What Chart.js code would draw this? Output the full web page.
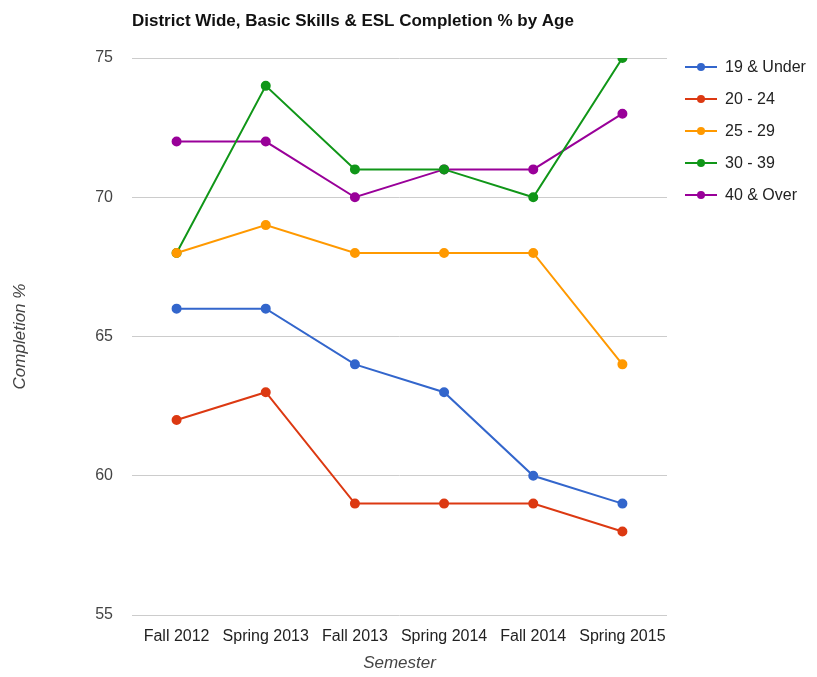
<!DOCTYPE html>
<html>
<head>
<meta charset="utf-8">
<script src="https://cdn.jsdelivr.net/npm/chart.js@4.4.0/dist/chart.umd.min.js"></script>
<style>
  html, body { margin: 0; padding: 0; background: #fff; }
  #wrap { width: 817px; height: 677px; }
</style>
</head>
<body>
<div id="wrap"><canvas id="completionChart" width="817" height="677"></canvas></div>
<script>
const semesters = ['Fall 2012', 'Spring 2013', 'Fall 2013', 'Spring 2014', 'Fall 2014', 'Spring 2015'];
const yTicks = [55, 60, 65, 70, 75];

const age19Under = [66, 66, 64, 63, 60, 59];
const age20to24 = [62, 63, 59, 59, 59, 58];
const age25to29 = [68, 69, 68, 68, 68, 64];
const age30to39 = [68, 74, 71, 71, 70, 75];
const age40Over = [72, 72, 70, 71, 71, 73];

const seriesNames = ['19 & Under', '20 - 24', '25 - 29', '30 - 39', '40 & Over'];
const seriesColors = ['#3366cc', '#dc3912', '#ff9900', '#109618', '#990099'];
const seriesValues = [age19Under, age20to24, age25to29, age30to39, age40Over];

const FONT = '"Liberation Sans", Arial, sans-serif';

// title + right-hand legend drawn by hand, Google-charts style
const extrasPlugin = {
    id: 'extras',
    afterDraw(chart) {
        const c = chart.ctx;
        c.save();
        c.fillStyle = '#111';
        c.font = 'bold 17px ' + FONT;
        c.textBaseline = 'middle';
        c.textAlign = 'left';
        c.fillText('District Wide, Basic Skills & ESL Completion % by Age', 132, 21);

        c.font = '16px ' + FONT;
        chart.data.datasets.forEach((ds, i) => {
            const y = 67 + i * 32;
            c.strokeStyle = ds.borderColor;
            c.lineWidth = 2;
            c.beginPath();
            c.moveTo(685, y);
            c.lineTo(717, y);
            c.stroke();
            c.fillStyle = ds.borderColor;
            c.beginPath();
            c.arc(701, y, 4, 0, Math.PI * 2);
            c.fill();
            c.fillStyle = '#222';
            c.fillText(ds.label, 725, y + 1);
        });
        c.restore();
    }
};

const ctx = document.getElementById('completionChart').getContext('2d');
new Chart(ctx, {
    type: 'line',
    data: {
        labels: semesters,
        datasets: seriesNames.map((name, i) => ({
            label: name,
            data: seriesValues[i],
            borderColor: seriesColors[i],
            backgroundColor: seriesColors[i],
            borderWidth: 2,
            pointRadius: 4,
            pointHoverRadius: 5,
            tension: 0
        }))
    },
    options: {
        responsive: false,
        animation: false,
        layout: { padding: { top: 58, right: 150, bottom: 0, left: 0 } },
        plugins: {
            legend: { display: false },
            title: { display: false },
            tooltip: { enabled: true }
        },
        scales: {
            x: {
                offset: true,
                grid: { display: false, drawTicks: false },
                border: { display: false },
                ticks: {
                    color: '#222',
                    font: { family: FONT, size: 16 },
                    padding: 12,
                    maxRotation: 0,
                    autoSkip: false
                },
                title: {
                    display: true,
                    text: 'Semester',
                    color: '#444',
                    font: { family: FONT, size: 17, style: 'italic' },
                    padding: { top: 2, bottom: 4 }
                },
                afterFit(scale) { scale.height = 62; }
            },
            y: {
                min: 55,
                max: 75,
                afterBuildTicks(scale) { scale.ticks = yTicks.map(v => ({ value: v })); },
                grid: { color: '#cccccc', drawTicks: false },
                border: { display: false },
                ticks: { color: '#444', font: { family: FONT, size: 16 }, padding: 19 },
                title: {
                    display: true,
                    text: 'Completion %',
                    color: '#444',
                    font: { family: FONT, size: 17, style: 'italic' },
                    padding: { top: 10, bottom: 0 }
                },
                afterFit(scale) { scale.width = 132; }
            }
        }
    },
    plugins: [extrasPlugin]
});
</script>
</body>
</html>
